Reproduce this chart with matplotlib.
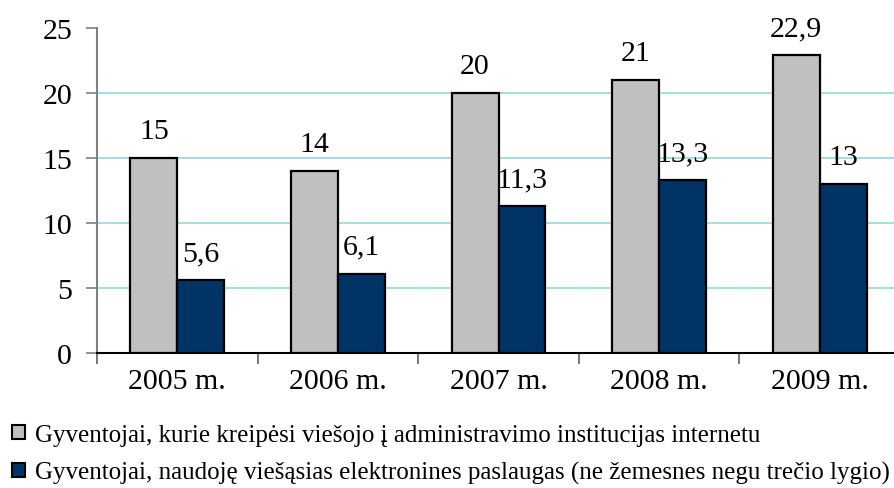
import matplotlib
matplotlib.use("Agg")
import matplotlib.pyplot as plt
import numpy as np

categories = ["2005 m.", "2006 m.", "2007 m.", "2008 m.", "2009 m."]
series1 = [15, 14, 20, 21, 22.9]
series2 = [5.6, 6.1, 11.3, 13.3, 13]
labels1 = ["15", "14", "20", "21", "22,9"]
labels2 = ["5,6", "6,1", "11,3", "13,3", "13"]
legend_names = [
    "Gyventojai, kurie kreipėsi viešojo į administravimo institucijas internetu",
    "Gyventojai, naudoję viešąsias elektronines paslaugas (ne žemesnes negu trečio lygio)",
]
yticks = [0, 5, 10, 15, 20, 25]

plt.rcParams['font.family'] = ['Liberation Serif', 'DejaVu Serif']

W, H = 894, 489
fig = plt.figure(figsize=(W / 100, H / 100), dpi=100)
left, right, top, bottom = 97, 900, 29, 354
ax = fig.add_axes([left / W, (H - bottom) / H, (right - left) / W, (bottom - top) / H])

x = np.arange(len(categories))
bw = 0.292
b1 = ax.bar(x - bw / 2, series1, bw, color='#C0C0C0', edgecolor='black', linewidth=1.6, zorder=3,
            label=legend_names[0])
b2 = ax.bar(x + bw / 2, series2, bw, color='#003366', edgecolor='black', linewidth=1.6, zorder=3,
            label=legend_names[1])

for xi, v, t in zip(x - bw / 2, series1, labels1):
    ax.annotate(t, (xi, v), xytext=(0, 14.5), textcoords='offset points', ha='center', va='baseline',
                fontsize=21.5, zorder=4)
for xi, v, t in zip(x + bw / 2, series2, labels2):
    ax.annotate(t, (xi, v), xytext=(0, 14.5), textcoords='offset points', ha='center', va='baseline',
                fontsize=21.5, zorder=4)

ax.set_xlim(-0.5, len(categories) - 0.5)
ax.set_ylim(0, 25)
ax.set_yticks(yticks)
ax.set_yticklabels([str(v) for v in yticks], fontsize=21.5)
ax.tick_params(axis='y', length=8, width=1.2, color='#808080', pad=10)
ax.yaxis.get_major_ticks()[0].tick1line.set_color('black')

ax.set_xticks(np.arange(-0.5, len(categories), 1.0))
ax.set_xticklabels([])
ax.tick_params(axis='x', which='major', length=8, width=1.2, color='#606060', direction='out')
ax.set_xticks(x, minor=True)
ax.set_xticklabels(categories, minor=True, fontsize=21.5)
ax.tick_params(axis='x', which='minor', length=0, pad=11)

ax.grid(axis='y', color='#8FDCDC', linewidth=1.2, zorder=0)
ax.set_axisbelow(True)
ax.get_ygridlines()[-1].set_visible(False)
ax.get_ygridlines()[0].set_visible(False)

for s in ['top', 'right']:
    ax.spines[s].set_visible(False)
ax.spines['left'].set_color('#808080')
ax.spines['left'].set_linewidth(1.5)
ax.spines['bottom'].set_color('black')
ax.spines['bottom'].set_linewidth(1.5)

leg = fig.legend(handles=[b1, b2], loc='upper left', bbox_to_anchor=(0.008, 0.142),
                 fontsize=18, frameon=False, handlelength=0.5, handleheight=0.5,
                 handletextpad=0.4, labelspacing=0.62, borderaxespad=0, borderpad=0.2)
for h in leg.legend_handles:
    h.set_linewidth(1.5)

fig.savefig("out.png", dpi=100)
